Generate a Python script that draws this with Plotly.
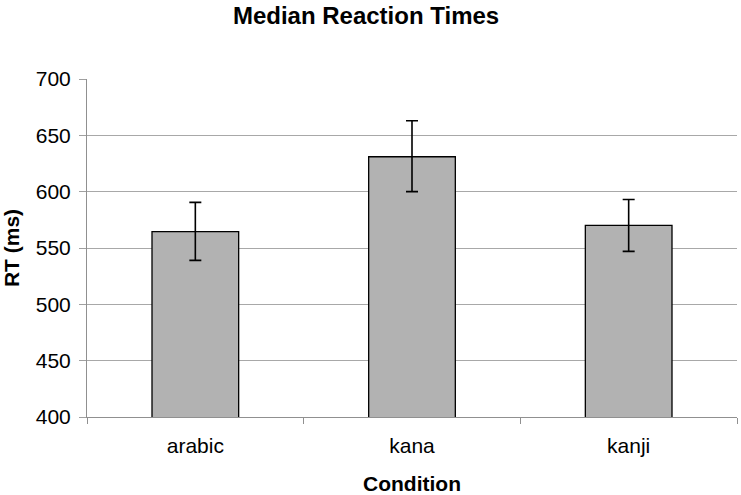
import plotly.graph_objects as go

categories = ["arabic", "kana", "kanji"]
medians = [564.5, 631, 570]
err_plus = [26, 32, 23]
err_minus = [25.5, 31, 23]
y_ticks = [400, 450, 500, 550, 600, 650, 700]

FONT = "Liberation Sans, Arial, sans-serif"

fig = go.Figure(
    go.Bar(
        x=categories,
        y=medians,
        marker=dict(color="#b2b2b2", line=dict(color="#000000", width=1.3)),
        width=0.4,
        error_y=dict(
            type="data",
            symmetric=False,
            array=err_plus,
            arrayminus=err_minus,
            color="#000000",
            thickness=1.6,
            width=6,
        ),
    )
)

fig.update_layout(
    width=741,
    height=495,
    margin=dict(l=87, r=4, t=79, b=78, autoexpand=False),
    paper_bgcolor="white",
    plot_bgcolor="white",
    showlegend=False,
    font=dict(family=FONT, color="#000000"),
    title=dict(
        text="<b>Median Reaction Times</b>",
        x=0.494,
        xref="container",
        xanchor="center",
        y=0.968,
        yref="container",
        yanchor="middle",
        font=dict(size=24, family=FONT),
    ),
)

fig.update_xaxes(
    automargin=False,
    showline=True,
    linecolor="#909090",
    linewidth=1,
    ticks="outside",
    tickson="boundaries",
    ticklen=6,
    tickcolor="#909090",
    tickfont=dict(size=21),
    ticklabelstandoff=10,
    showgrid=False,
    title=dict(text="<b>Condition</b>", font=dict(size=21), standoff=22),
)

fig.update_yaxes(
    automargin=False,
    range=[400, 700],
    tickvals=y_ticks,
    showline=True,
    linecolor="#909090",
    linewidth=1,
    ticks="outside",
    ticklen=7,
    tickcolor="#a0a0a0",
    tickfont=dict(size=21),
    ticklabelstandoff=4,
    showgrid=True,
    gridcolor="#a8a8a8",
    gridwidth=1,
    zeroline=False,
    title=dict(text="<b>RT (ms)</b>", font=dict(size=21), standoff=12),
)

fig.write_html(
    "out.html",
    config={"displayModeBar": False},
    post_script="document.body.style.margin='0';",
)
